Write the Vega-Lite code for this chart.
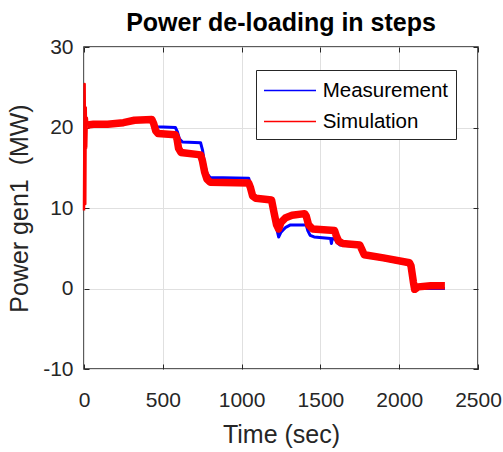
{
  "$schema": "https://vega.github.io/schema/vega-lite/v6.json",
  "width": 394,
  "height": 322,
  "autosize": {"type": "none"},
  "padding": {"left": 84, "top": 47, "right": 25, "bottom": 83},
  "title": {"text": "Power de-loading in steps", "font": "Liberation Sans", "fontSize": 25, "fontWeight": "bold", "color": "#000000", "offset": 0, "anchor": "middle"},
  "data": {"values": [
    {"t": 20, "v": 20.4, "series": "Measurement", "phase": "steady"},
    {"t": 100, "v": 20.4, "series": "Measurement", "phase": "steady"},
    {"t": 200, "v": 20.6, "series": "Measurement", "phase": "steady"},
    {"t": 300, "v": 20.9, "series": "Measurement", "phase": "steady"},
    {"t": 430, "v": 20.9, "series": "Measurement", "phase": "steady"},
    {"t": 445, "v": 20.4, "series": "Measurement", "phase": "steady"},
    {"t": 465, "v": 20.1, "series": "Measurement", "phase": "steady"},
    {"t": 580, "v": 20.0, "series": "Measurement", "phase": "steady"},
    {"t": 592, "v": 19.5, "series": "Measurement", "phase": "steady"},
    {"t": 605, "v": 18.6, "series": "Measurement", "phase": "steady"},
    {"t": 625, "v": 18.2, "series": "Measurement", "phase": "steady"},
    {"t": 740, "v": 18.1, "series": "Measurement", "phase": "steady"},
    {"t": 752, "v": 17.2, "series": "Measurement", "phase": "steady"},
    {"t": 765, "v": 15.5, "series": "Measurement", "phase": "steady"},
    {"t": 780, "v": 14.3, "series": "Measurement", "phase": "steady"},
    {"t": 800, "v": 13.8, "series": "Measurement", "phase": "steady"},
    {"t": 1045, "v": 13.7, "series": "Measurement", "phase": "steady"},
    {"t": 1055, "v": 13.0, "series": "Measurement", "phase": "steady"},
    {"t": 1070, "v": 11.6, "series": "Measurement", "phase": "steady"},
    {"t": 1090, "v": 11.2, "series": "Measurement", "phase": "steady"},
    {"t": 1190, "v": 11.0, "series": "Measurement", "phase": "steady"},
    {"t": 1205, "v": 9.5, "series": "Measurement", "phase": "steady"},
    {"t": 1222, "v": 7.5, "series": "Measurement", "phase": "steady"},
    {"t": 1235, "v": 6.4, "series": "Measurement", "phase": "steady"},
    {"t": 1250, "v": 7.0, "series": "Measurement", "phase": "steady"},
    {"t": 1280, "v": 7.6, "series": "Measurement", "phase": "steady"},
    {"t": 1310, "v": 7.9, "series": "Measurement", "phase": "steady"},
    {"t": 1410, "v": 7.9, "series": "Measurement", "phase": "steady"},
    {"t": 1420, "v": 7.2, "series": "Measurement", "phase": "steady"},
    {"t": 1435, "v": 6.6, "series": "Measurement", "phase": "steady"},
    {"t": 1460, "v": 6.4, "series": "Measurement", "phase": "steady"},
    {"t": 1565, "v": 6.2, "series": "Measurement", "phase": "steady"},
    {"t": 1570, "v": 5.6, "series": "Measurement", "phase": "steady"},
    {"t": 1575, "v": 6.2, "series": "Measurement", "phase": "steady"},
    {"t": 1595, "v": 6.1, "series": "Measurement", "phase": "steady"},
    {"t": 1605, "v": 5.7, "series": "Measurement", "phase": "steady"},
    {"t": 1625, "v": 5.4, "series": "Measurement", "phase": "steady"},
    {"t": 1760, "v": 5.2, "series": "Measurement", "phase": "steady"},
    {"t": 1770, "v": 4.4, "series": "Measurement", "phase": "steady"},
    {"t": 1785, "v": 4.0, "series": "Measurement", "phase": "steady"},
    {"t": 1900, "v": 3.6, "series": "Measurement", "phase": "steady"},
    {"t": 2060, "v": 3.0, "series": "Measurement", "phase": "steady"},
    {"t": 2075, "v": 2.6, "series": "Measurement", "phase": "steady"},
    {"t": 2092, "v": 1.0, "series": "Measurement", "phase": "steady"},
    {"t": 2108, "v": 0.0, "series": "Measurement", "phase": "steady"},
    {"t": 2290, "v": 0.0, "series": "Measurement", "phase": "steady"},
    {"t": 0, "v": 9.7, "series": "Simulation", "phase": "startup"},
    {"t": 4, "v": 25.4, "series": "Simulation", "phase": "startup"},
    {"t": 8, "v": 10.5, "series": "Simulation", "phase": "startup"},
    {"t": 11, "v": 22.5, "series": "Simulation", "phase": "startup"},
    {"t": 14, "v": 17.5, "series": "Simulation", "phase": "startup"},
    {"t": 18, "v": 21.2, "series": "Simulation", "phase": "startup"},
    {"t": 22, "v": 20.3, "series": "Simulation", "phase": "startup"},
    {"t": 22, "v": 20.3, "series": "Simulation", "phase": "steady"},
    {"t": 60, "v": 20.4, "series": "Simulation", "phase": "steady"},
    {"t": 150, "v": 20.4, "series": "Simulation", "phase": "steady"},
    {"t": 250, "v": 20.6, "series": "Simulation", "phase": "steady"},
    {"t": 320, "v": 20.9, "series": "Simulation", "phase": "steady"},
    {"t": 430, "v": 21.0, "series": "Simulation", "phase": "steady"},
    {"t": 442, "v": 20.5, "series": "Simulation", "phase": "steady"},
    {"t": 455, "v": 19.6, "series": "Simulation", "phase": "steady"},
    {"t": 470, "v": 19.25, "series": "Simulation", "phase": "steady"},
    {"t": 580, "v": 19.1, "series": "Simulation", "phase": "steady"},
    {"t": 590, "v": 18.6, "series": "Simulation", "phase": "steady"},
    {"t": 600, "v": 17.4, "series": "Simulation", "phase": "steady"},
    {"t": 615, "v": 16.9, "series": "Simulation", "phase": "steady"},
    {"t": 740, "v": 16.6, "series": "Simulation", "phase": "steady"},
    {"t": 752, "v": 15.8, "series": "Simulation", "phase": "steady"},
    {"t": 765, "v": 14.5, "series": "Simulation", "phase": "steady"},
    {"t": 780, "v": 13.6, "series": "Simulation", "phase": "steady"},
    {"t": 800, "v": 13.2, "series": "Simulation", "phase": "steady"},
    {"t": 1045, "v": 13.1, "series": "Simulation", "phase": "steady"},
    {"t": 1055, "v": 12.6, "series": "Simulation", "phase": "steady"},
    {"t": 1070, "v": 11.5, "series": "Simulation", "phase": "steady"},
    {"t": 1090, "v": 11.2, "series": "Simulation", "phase": "steady"},
    {"t": 1190, "v": 11.0, "series": "Simulation", "phase": "steady"},
    {"t": 1205, "v": 9.5, "series": "Simulation", "phase": "steady"},
    {"t": 1222, "v": 7.9, "series": "Simulation", "phase": "steady"},
    {"t": 1235, "v": 7.4, "series": "Simulation", "phase": "steady"},
    {"t": 1250, "v": 8.2, "series": "Simulation", "phase": "steady"},
    {"t": 1280, "v": 8.8, "series": "Simulation", "phase": "steady"},
    {"t": 1320, "v": 9.1, "series": "Simulation", "phase": "steady"},
    {"t": 1400, "v": 9.3, "series": "Simulation", "phase": "steady"},
    {"t": 1410, "v": 9.0, "series": "Simulation", "phase": "steady"},
    {"t": 1425, "v": 7.9, "series": "Simulation", "phase": "steady"},
    {"t": 1450, "v": 7.4, "series": "Simulation", "phase": "steady"},
    {"t": 1590, "v": 7.2, "series": "Simulation", "phase": "steady"},
    {"t": 1600, "v": 6.6, "series": "Simulation", "phase": "steady"},
    {"t": 1615, "v": 5.9, "series": "Simulation", "phase": "steady"},
    {"t": 1640, "v": 5.6, "series": "Simulation", "phase": "steady"},
    {"t": 1750, "v": 5.4, "series": "Simulation", "phase": "steady"},
    {"t": 1762, "v": 4.9, "series": "Simulation", "phase": "steady"},
    {"t": 1778, "v": 4.2, "series": "Simulation", "phase": "steady"},
    {"t": 1900, "v": 3.8, "series": "Simulation", "phase": "steady"},
    {"t": 2065, "v": 3.2, "series": "Simulation", "phase": "steady"},
    {"t": 2075, "v": 2.8, "series": "Simulation", "phase": "steady"},
    {"t": 2090, "v": 0.8, "series": "Simulation", "phase": "steady"},
    {"t": 2098, "v": -0.1, "series": "Simulation", "phase": "steady"},
    {"t": 2120, "v": 0.2, "series": "Simulation", "phase": "steady"},
    {"t": 2200, "v": 0.35, "series": "Simulation", "phase": "steady"},
    {"t": 2290, "v": 0.35, "series": "Simulation", "phase": "steady"}
  ]},
  "layer": [
    {
      "transform": [{"filter": "datum.series === 'Measurement'"}],
      "mark": {"type": "line", "strokeWidth": 3, "strokeJoin": "round"},
      "encoding": {
        "x": {"field": "t", "type": "quantitative", "scale": {"domain": [0, 2500], "nice": false},
              "axis": {"orient": "bottom", "values": [0, 500, 1000, 1500, 2000, 2500], "title": "Time (sec)", "grid": true, "labelExpr": "'' + datum.value"}},
        "y": {"field": "v", "type": "quantitative", "scale": {"domain": [-10, 30], "nice": false},
              "axis": {"orient": "left", "values": [-10, 0, 10, 20, 30], "title": "Power gen1\u00a0 (MW)", "grid": true, "labelExpr": "'' + datum.value"}},
        "color": {"field": "series", "type": "nominal", "scale": {"domain": ["Measurement", "Simulation"], "range": ["#0000ff", "#ff0000"]},
                  "legend": {"title": null, "orient": "none", "legendX": 172, "legendY": 23}}
      }
    },
    {
      "transform": [{"filter": "datum.series === 'Simulation'"}],
      "mark": {"type": "line", "strokeJoin": "round"},
      "encoding": {
        "x": {"field": "t", "type": "quantitative", "scale": {"domain": [0, 2500], "nice": false},
              "axis": {"orient": "top", "values": [0, 500, 1000, 1500, 2000, 2500], "title": null, "grid": false, "labels": false}},
        "y": {"field": "v", "type": "quantitative", "scale": {"domain": [-10, 30], "nice": false},
              "axis": {"orient": "right", "values": [-10, 0, 10, 20, 30], "title": null, "grid": false, "labels": false}},
        "color": {"field": "series", "type": "nominal", "scale": {"domain": ["Measurement", "Simulation"], "range": ["#0000ff", "#ff0000"]},
                  "legend": {"title": null, "orient": "none", "legendX": 172, "legendY": 23}},
        "strokeWidth": {"field": "phase", "type": "ordinal", "scale": {"domain": ["startup", "steady"], "range": [2.5, 7.5]}, "legend": null}
      }
    }
  ],
  "resolve": {"axis": {"x": "independent", "y": "independent"}},
  "config": {
    "view": {"stroke": "#262626", "strokeWidth": 1.5},
    "axis": {"domain": false, "tickSize": -5, "tickColor": "#262626", "tickWidth": 1,
             "labelFont": "Liberation Sans", "labelFontSize": 21, "labelColor": "#262626", "labelFlush": false, "labelOverlap": false,
             "titleFont": "Liberation Sans", "titleFontSize": 25, "titleFontWeight": "normal", "titleColor": "#262626",
             "gridColor": "#e0e0e0", "gridWidth": 1, "gridOpacity": 1},
    "axisBottom": {"labelPadding": 25, "titlePadding": 12},
    "axisLeft": {"labelPadding": 16, "titlePadding": 10},
    "legend": {"symbolType": "M-1,0H3.16", "symbolSize": 625, "symbolStrokeWidth": 1.5,
               "labelFont": "Liberation Sans", "labelFontSize": 20.5, "labelColor": "#000000", "labelOffset": 32.7, "labelLimit": 400,
               "padding": 7, "rowPadding": 7, "fillColor": "#ffffff", "strokeColor": "#262626"}
  }
}
